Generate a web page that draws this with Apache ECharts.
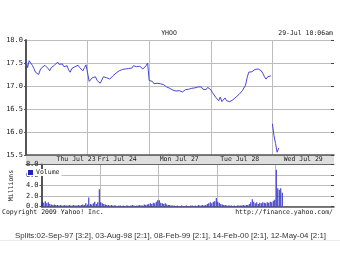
<!DOCTYPE html>
<html><head><meta charset="utf-8">
<script src="https://cdn.jsdelivr.net/npm/echarts@6/dist/echarts.min.js"></script>
<style>html,body{margin:0;padding:0;background:#fff}#c{width:340px;height:255px}</style>
</head><body><div id="c"></div>
<script>
// 10-minute slots, 39 per trading day
const dayLabels = ['Thu Jul 23', 'Fri Jul 24', 'Mon Jul 27', 'Tue Jul 28', 'Wed Jul 29'];
const dayLabelAt = [31.7, 57.7, 97, 135.3, 175.5];
const slotsPerDay = 39;

const priceThu = [17.55,17.40,17.55,17.50,17.45,17.38,17.30,17.32,17.25,17.35,17.40,17.38,17.45,17.42,17.38,17.33,17.40,17.43,17.45,17.48,17.52,17.47,17.45,17.48,17.42,17.40,17.44,17.35,17.30,17.38,17.35,17.42,17.44,17.45,17.40,17.36,17.33,17.40,17.46];
const priceFri = [17.50,17.10,17.12,17.18,17.14,17.20,17.12,17.08,17.06,17.10,17.20,17.16,17.18,17.22,17.15,17.17,17.22,17.25,17.28,17.30,17.33,17.35,17.36,17.38,17.37,17.40,17.38,17.41,17.39,17.44,17.40,17.42,17.38,17.43,17.40,17.37,17.40,17.44,17.50];
const priceMon = [17.12,17.08,17.10,17.05,17.08,17.06,17.04,17.05,17.02,17.03,17.00,16.98,16.97,16.95,16.93,16.91,16.92,16.89,16.93,16.90,16.90,16.87,16.90,16.92,16.91,16.93,16.94,16.95,16.95,16.96,16.97,16.98,17.00,16.98,16.93,16.96,16.92,16.97,17.00];
const priceTue = [16.92,16.86,16.82,16.76,16.72,16.68,16.76,16.66,16.70,16.74,16.68,16.70,16.66,16.69,16.70,16.74,16.76,16.80,16.82,16.86,16.90,16.94,17.02,17.18,17.30,17.34,17.31,17.33,17.36,17.33,17.37,17.38,17.33,17.27,17.20,17.15,17.20,17.18,17.22];
const priceWed = [16.18,15.92,15.75,15.56,15.65];

const volThu = [0.9,0.7,1.0,0.6,0.8,0.5,0.4,0.3,0.4,0.3,0.3,0.2,0.3,0.2,0.2,0.3,0.2,0.2,0.3,0.2,0.2,0.3,0.2,0.2,0.3,0.2,0.3,0.4,0.3,0.6,0.4,1.7,0.5,0.4,0.6,0.9,0.5,0.8,3.3];
const volFri = [0.8,0.6,0.5,0.4,0.3,0.3,0.2,0.3,0.2,0.2,0.2,0.1,0.2,0.2,0.1,0.2,0.1,0.2,0.2,0.1,0.2,0.3,0.2,0.1,0.2,0.2,0.3,0.2,0.2,0.4,0.3,0.4,0.5,0.6,0.5,0.7,0.6,0.9,1.2];
const volMon = [1.2,0.7,0.6,0.5,0.6,0.4,0.3,0.3,0.2,0.2,0.2,0.1,0.2,0.1,0.1,0.2,0.1,0.1,0.2,0.1,0.1,0.2,0.2,0.1,0.2,0.1,0.3,0.2,0.2,0.3,0.2,0.3,0.5,0.6,0.8,0.6,0.9,1.0,1.6];
const volTue = [0.9,0.7,0.5,0.4,0.3,0.3,0.2,0.2,0.2,0.2,0.1,0.2,0.1,0.2,0.2,0.2,0.2,0.3,0.2,0.3,0.3,0.5,0.8,1.4,0.9,0.6,0.8,0.5,0.7,0.6,0.8,0.7,0.6,0.8,0.7,0.9,0.8,1.1,1.3];
const volWed = [7.0,3.5,3.2,3.5,2.6];

const titleText = 'YHOO';
const stampText = '29-Jul 10:06am';
const copyText = 'Copyright 2009 Yahoo! Inc.';
const urlText = 'http://finance.yahoo.com/';
const splitsText = 'Splits:02-Sep-97 [3:2], 03-Aug-98 [2:1], 08-Feb-99 [2:1], 14-Feb-00 [2:1], 12-May-04 [2:1]';

const priceDays = [priceThu, priceFri, priceMon, priceTue, priceWed];
const volDays = [volThu, volFri, volMon, volTue, volWed];
// Thu..Tue drawn as one continuous line; Wed's gap-down open starts a new segment
const segments = [[0, 1, 2, 3], [4]];

const MONO = 'DejaVu Sans Mono';
const lineColor = '#4646d8';
const barColor = '#2020c8';
const gridColor = '#bdbdbd';

const priceSeries = segments.map(days => {
  const data = [];
  days.forEach(d => priceDays[d].forEach((v, i) => data.push([d * slotsPerDay + i, v])));
  return {
    type: 'line', name: 'Price', xAxisIndex: 0, yAxisIndex: 0,
    showSymbol: false, symbol: 'none', silent: true,
    lineStyle: { color: lineColor, width: 1 }, data
  };
});
const volData = [];
volDays.forEach((arr, d) => arr.forEach((v, i) => volData.push([d * slotsPerDay + i + 0.5, v])));

const xBase = {
  type: 'value', min: 0, max: slotsPerDay * 5, interval: slotsPerDay,
  axisLabel: { show: false }, axisTick: { show: false },
  axisLine: { show: true, lineStyle: { color: '#555', width: 1.5 } },
  splitLine: { show: true, showMaxLine: false, lineStyle: { color: gridColor, width: 1 } }
};

const chart = echarts.init(document.getElementById('c'), null, { renderer: 'canvas' });
chart.setOption({
  animation: false,
  backgroundColor: '#fff',
  title: [
    { text: titleText, left: 169, top: 29.5, textAlign: 'center', padding: 0,
      textStyle: { fontFamily: MONO, fontSize: 6.5, fontWeight: 'normal', color: '#222' } },
    { text: stampText, right: 7, top: 29.5, padding: 0,
      textStyle: { fontFamily: MONO, fontSize: 6.5, fontWeight: 'normal', color: '#222' } },
    { text: copyText, left: 2, top: 209, padding: 0,
      textStyle: { fontFamily: MONO, fontSize: 6.5, fontWeight: 'normal', color: '#222' } },
    { text: urlText, right: 7, top: 209, padding: 0,
      textStyle: { fontFamily: MONO, fontSize: 6.5, fontWeight: 'normal', color: '#222' } },
    { text: splitsText, left: 15, top: 231.5, padding: 0,
      textStyle: { fontFamily: 'Liberation Sans', fontSize: 7.9, fontWeight: 'normal', color: '#333' } }
  ],
  legend: {
    data: ['Volume'], left: 27, top: 169, padding: [0, 2, 0, 1], icon: 'rect',
    backgroundColor: '#fff',
    itemWidth: 5, itemHeight: 5, itemGap: 4, selectedMode: false,
    textStyle: { fontFamily: MONO, fontSize: 6.5, color: '#222', padding: [0, 0, 0, -2] }
  },
  grid: [
    { left: 26, top: 40, width: 308, height: 115 },
    { left: 26, top: 155, width: 308, height: 9, show: true, backgroundColor: '#dedede', borderWidth: 0 },
    { left: 26, top: 164.5, width: 308, height: 42 }
  ],
  xAxis: [
    Object.assign({}, xBase, { gridIndex: 0 }),
    { type: 'value', gridIndex: 1, min: 0, max: slotsPerDay * 5,
      axisLine: { show: true, lineStyle: { color: '#666', width: 1 } },
      axisTick: { show: false }, splitLine: { show: false },
      axisLabel: { show: true, inside: true, margin: 1, customValues: dayLabelAt,
        fontFamily: MONO, fontSize: 6.5, color: '#222',
        formatter: (v, idx) => { const k = dayLabelAt.indexOf(v); return dayLabels[k >= 0 ? k : idx] || ''; } } },
    Object.assign({}, xBase, { gridIndex: 2 })
  ],
  yAxis: [
    { type: 'value', gridIndex: 0, min: 15.5, max: 18, interval: 0.5,
      axisLine: { show: true, lineStyle: { color: '#555', width: 2 } },
      axisTick: { show: true, length: 2, lineStyle: { color: '#555' } },
      axisLabel: { margin: 3, fontFamily: MONO, fontSize: 7, color: '#222', formatter: v => v.toFixed(1) },
      splitLine: { show: true, lineStyle: { color: gridColor, width: 1 } } },
    { type: 'value', gridIndex: 0, position: 'right', min: 15.5, max: 18, interval: 0.5,
      axisLine: { show: false }, axisLabel: { show: false }, splitLine: { show: false },
      axisTick: { show: true, inside: true, length: 3, lineStyle: { color: '#444' } } },
    { type: 'value', gridIndex: 1, show: false, min: 0, max: 1 },
    { type: 'value', gridIndex: 2, min: 0, max: 8, interval: 2,
      name: 'Millions', nameLocation: 'middle', nameRotate: 90, nameGap: 20,
      nameTextStyle: { fontFamily: MONO, fontSize: 6.5, color: '#222' },
      axisLine: { show: true, lineStyle: { color: '#555', width: 2 } },
      axisTick: { show: true, length: 2, lineStyle: { color: '#555' } },
      axisLabel: { margin: 3, fontFamily: MONO, fontSize: 7, color: '#222', formatter: v => v.toFixed(1) },
      splitLine: { show: true, lineStyle: { color: gridColor, width: 1 } } },
    { type: 'value', gridIndex: 2, position: 'right', min: 0, max: 8, interval: 2,
      axisLine: { show: false }, axisLabel: { show: false }, splitLine: { show: false },
      axisTick: { show: true, inside: true, length: 3, lineStyle: { color: '#444' } } }
  ],
  graphic: [
    { type: 'line', shape: { x1: 0, y1: 240.5, x2: 340, y2: 240.5 }, style: { stroke: '#ececec', lineWidth: 1 }, silent: true }
  ],
  series: priceSeries.concat([
    { type: 'bar', name: 'Volume', xAxisIndex: 2, yAxisIndex: 3, barWidth: 1, silent: true,
      itemStyle: { color: barColor }, data: volData }
  ])
});
</script>
</body></html>
